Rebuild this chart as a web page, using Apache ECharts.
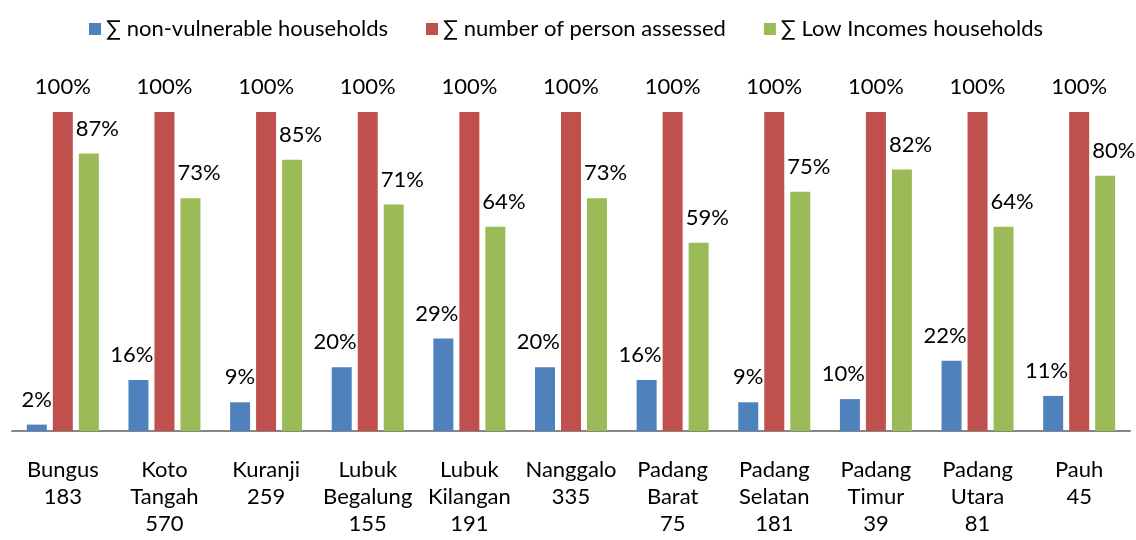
<!DOCTYPE html>
<html>
<head>
<meta charset="utf-8">
<script src="https://cdn.jsdelivr.net/npm/echarts@6/dist/echarts.min.js"></script>
<style>
html, body { margin: 0; padding: 0; background: #fff; }
#chart { width: 1136px; height: 540px; }
</style>
</head>
<body>
<div id="chart"></div>
<script>
var categories = ['Bungus\n183', 'Koto\nTangah\n570', 'Kuranji\n259', 'Lubuk\nBegalung\n155',
    'Lubuk\nKilangan\n191', 'Nanggalo\n335', 'Padang\nBarat\n75', 'Padang\nSelatan\n181',
    'Padang\nTimur\n39', 'Padang\nUtara\n81', 'Pauh\n45'];
var nonVulnerable = [2, 16, 9, 20, 29, 20, 16, 9, 10, 22, 11];
var personsAssessed = [100, 100, 100, 100, 100, 100, 100, 100, 100, 100, 100];
var lowIncome = [87, 73, 85, 71, 64, 73, 59, 75, 82, 64, 80];

var font = 'Lato';
var chart = echarts.init(document.getElementById('chart'));

// excel pushes the side labels away from the red bar
function label(align, dx) {
    return {
        show: true,
        position: 'top',
        distance: 14,
        align: align,
        offset: [dx, 0],
        color: '#000',
        fontFamily: font,
        fontSize: 22,
        formatter: '{c}%'
    };
}

var option = {
    animation: false,
    textStyle: { fontFamily: font },
    legend: {
        top: 13,
        left: 84,
        itemWidth: 12,
        itemHeight: 12,
        itemGap: 38,
        icon: 'rect',
        textStyle: { fontSize: 22, color: '#000', fontFamily: font },
        data: ['∑ non-vulnerable households', '∑ number of person assessed', '∑ Low Incomes households']
    },
    grid: { left: 12, right: 6, top: 112, bottom: 109, containLabel: false },
    xAxis: {
        type: 'category',
        data: categories,
        axisLine: { lineStyle: { color: '#868686', width: 2 } },
        axisTick: { show: false },
        axisLabel: {
            color: '#000',
            fontFamily: font,
            fontSize: 22,
            lineHeight: 27,
            margin: 25,
            interval: 0
        }
    },
    yAxis: {
        type: 'value',
        min: 0,
        max: 100,
        show: false,
        splitLine: { show: false }
    },
    series: [
        {
            name: '∑ non-vulnerable households',
            type: 'bar',
            data: nonVulnerable,
            barWidth: 20,
            barGap: '30%',
            itemStyle: { color: '#4F81BD' },
            label: label('right', 15)
        },
        {
            name: '∑ number of person assessed',
            type: 'bar',
            data: personsAssessed,
            barWidth: 20,
            barGap: '30%',
            itemStyle: { color: '#C0504D' },
            label: label('center', 0)
        },
        {
            name: '∑ Low Incomes households',
            type: 'bar',
            data: lowIncome,
            barWidth: 20,
            barGap: '30%',
            itemStyle: { color: '#9BBB59' },
            label: label('left', -13)
        }
    ]
};

chart.setOption(option);
</script>
</body>
</html>
